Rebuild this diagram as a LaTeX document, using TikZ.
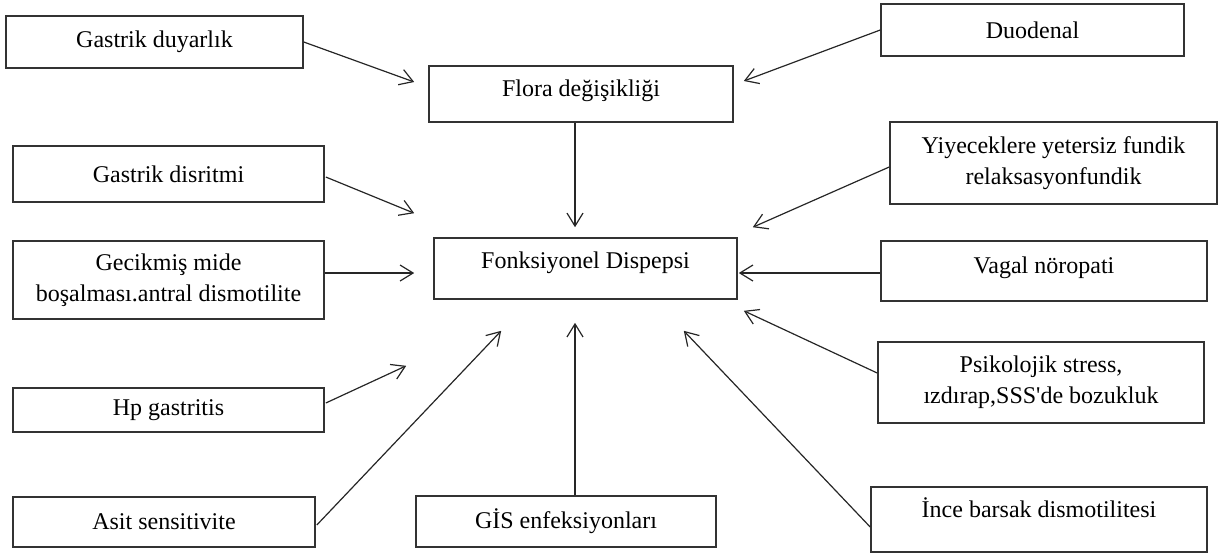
\documentclass[tikz,border=0pt]{standalone}
\usepackage{fontspec}
\setmainfont{Liberation Serif}
\usetikzlibrary{arrows.meta, calc}

\begin{document}
\begin{tikzpicture}[
      x=0.5pt, y=-0.5pt,
      >={Straight Barb[length=6.5pt, width=8pt]},
      causebox/.style={
        rectangle,
        draw=black!80,
        line width=0.8pt,
        align=center,
        inner sep=0pt,
        font=\fontsize{12}{15.5}\selectfont,
      },
      boxsize/.style 2 args={minimum width=#1, minimum height=#2},
      lift/.style={text height=8.5pt, text depth=#1},
      link/.style={->, line width=0.6pt, draw=black!85},
    ]
      \useasboundingbox (0,0) rectangle (1219,554);

      % central blocks
      \node[causebox, boxsize={152pt}{28pt}, lift=5.6pt] (flora) at (581,94) {Flora değişikliği};
      \node[causebox, boxsize={151.5pt}{30.5pt}, lift=8.1pt] (fonk) at (585.5,268.5) {Fonksiyonel Dispepsi};
      \node[causebox, boxsize={150pt}{25.5pt}] (gis) at (566,521.5) {GİS enfeksiyonları};

      % left column
      \node[causebox, boxsize={148.5pt}{26pt}] (duyarlik) at (154.5,42) {Gastrik duyarlık};
      \node[causebox, boxsize={155.5pt}{28pt}] (disritmi) at (168.5,174) {Gastrik disritmi};
      \node[causebox, boxsize={155.5pt}{39pt}] (gecikmis) at (168.5,280) {Gecikmiş mide\\boşalması.antral dismotilite};
      \node[causebox, boxsize={155.5pt}{22pt}] (hp) at (168.5,410) {Hp gastritis};
      \node[causebox, boxsize={151pt}{25pt}] (asit) at (164,522) {Asit sensitivite};

      % right column
      \node[causebox, boxsize={151.5pt}{26pt}] (duodenal) at (1032.5,30) {Duodenal};
      \node[causebox, boxsize={163.5pt}{41pt}] (yiyecek) at (1053.5,163) {Yiyeceklere yetersiz fundik\\relaksasyonfundik};
      \node[causebox, boxsize={163pt}{30pt}, lift=6.1pt] (vagal) at (1044,271) {Vagal nöropati};
      \node[causebox, boxsize={163pt}{40.5pt}] (psiko) at (1041,382.5) {Psikolojik stress,\\ızdırap,SSS\textquotesingle de bozukluk};
      \node[causebox, boxsize={168pt}{32.5pt}, lift=10.1pt] (ince) at (1039,519.5) {İnce barsak dismotilitesi};

      % arrows into flora
      \draw[link] (duyarlik.east) -- ($(flora.west)+(-14,-12)$);
      \draw[link] (duodenal.west) -- ($(flora.east)+(10,-13)$);

      % arrows into fonksiyonel dispepsi
      \draw[link] ($(flora.south)+(-6,0)$) -- ($(fonk.north)+(-10.5,-10)$);
      \draw[link] ($(disritmi.east)+(1,3)$) -- ($(fonk.north west)+(-19,-24)$);
      \draw[link] ($(gecikmis.east)+(0,-7)$) -- ($(fonk.west)+(-19,4.5)$);
      \draw[link] ($(hp.east)+(1,-7)$) -- ($(fonk.south west)+(-27,66)$);
      \draw[link] ($(asit.east)+(1,3)$) -- ($(fonk.south west)+(68,31)$);
      \draw[link] ($(gis.north)+(9,0)$) -- ($(fonk.south)+(-10.5,23)$);
      \draw[link] ($(ince.west)+(0,7.5)$) -- ($(fonk.south east)+(-54,31)$);
      \draw[link] ($(psiko.west)+(0,-9.5)$) -- ($(fonk.south east)+(6,11)$);
      \draw[link] ($(vagal.west)+(0,2)$) -- ($(fonk.east)+(1,4.5)$);
      \draw[link] ($(yiyecek.west)+(0,4)$) -- ($(fonk.north east)+(15,-10)$);
    \end{tikzpicture}
\end{document}
